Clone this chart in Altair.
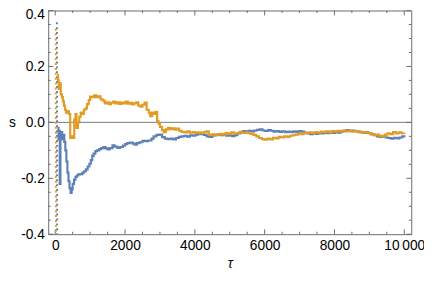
import altair as alt
import pandas as pd

# ---- data ----
orange_x = [60, 80, 100, 130, 160, 190, 220, 250, 280, 310, 350, 390, 430, 470, 520, 545, 580, 610, 650, 690,
            730, 780, 820, 870, 910, 960, 1000, 1060, 1120, 1180, 1240, 1300, 1360, 1420, 1480, 1540, 1600, 1660,
            1720, 1780, 1840, 1900, 1960, 2020, 2080, 2140, 2200, 2260, 2320, 2380, 2440, 2500, 2560, 2620, 2680,
            2720, 2780, 2840, 2880, 2920, 2960, 3000, 3060, 3110, 3170, 3230, 3290, 3350, 3420, 3480, 3550, 3620,
            3700, 3780, 3860, 3940, 4020, 4100, 4180, 4260, 4330, 4400, 4480, 4560, 4640, 4720, 4800, 4880, 4960,
            5040, 5120, 5200, 5280, 5360, 5440, 5520, 5600, 5680, 5760, 5840, 5920, 6000, 6080, 6160, 6240, 6320,
            6400, 6480, 6560, 6640, 6720, 6800, 6880, 6960, 7040, 7120, 7200, 7280, 7360, 7440, 7520, 7600, 7680,
            7760, 7840, 7920, 8000, 8080, 8160, 8240, 8320, 8400, 8480, 8560, 8640, 8720, 8800, 8880, 8960, 9040,
            9120, 9200, 9280, 9360, 9440, 9520, 9600, 9680, 9760, 9840, 9920, 10000]
orange_y = [0.17, 0.15, 0.12, 0.14, 0.10, 0.09, 0.075, 0.06, 0.045, 0.035, 0.04, 0.03, -0.056, -0.05, -0.056,
            0.01, 0.03, -0.02, 0.0, 0.02, 0.035, 0.03, 0.045, 0.05, 0.065, 0.08, 0.092, 0.09, 0.097, 0.09, 0.093,
            0.082, 0.078, 0.068, 0.072, 0.065, 0.07, 0.074, 0.068, 0.072, 0.066, 0.071, 0.068, 0.074, 0.067, 0.07,
            0.064, 0.068, 0.072, 0.06, 0.056, 0.063, 0.071, 0.045, 0.035, 0.022, 0.035, 0.03, 0.038, 0.005, -0.005,
            -0.016, -0.028, -0.035, -0.025, -0.02, -0.024, -0.021, -0.026, -0.022, -0.03, -0.034, -0.036, -0.032,
            -0.037, -0.035, -0.038, -0.036, -0.039, -0.035, -0.032, -0.045, -0.043, -0.047, -0.044, -0.041, -0.044,
            -0.038, -0.041, -0.036, -0.04, -0.038, -0.035, -0.038, -0.036, -0.039, -0.041, -0.045, -0.05, -0.056,
            -0.06, -0.062, -0.058, -0.061, -0.055, -0.057, -0.052, -0.054, -0.05, -0.052, -0.048, -0.046, -0.044,
            -0.04, -0.042, -0.037, -0.039, -0.036, -0.038, -0.035, -0.037, -0.033, -0.035, -0.032, -0.035, -0.031,
            -0.033, -0.03, -0.032, -0.029, -0.032, -0.03, -0.033, -0.031, -0.035, -0.034, -0.037, -0.035, -0.038,
            -0.043, -0.046, -0.044, -0.048, -0.05, -0.044, -0.039, -0.042, -0.035, -0.04, -0.036, -0.039, -0.037]

blue_x = [65, 95, 115, 130, 150, 175, 200, 230, 260, 290, 320, 350, 380, 410, 440, 470, 500, 540, 580, 620, 660,
          720, 780, 830, 880, 930, 980, 1020, 1060, 1100, 1150, 1200, 1260, 1320, 1380, 1440, 1500, 1560, 1640,
          1700, 1780, 1860, 1940, 2000, 2060, 2140, 2220, 2280, 2340, 2420, 2500, 2580, 2660, 2760, 2820, 2900,
          2980, 3060, 3140, 3220, 3300, 3380, 3460, 3540, 3620, 3700, 3780, 3860, 3940, 4020, 4100, 4180, 4260,
          4340, 4420, 4500, 4580, 4660, 4740, 4820, 4900, 4980, 5060, 5140, 5220, 5300, 5380, 5460, 5540, 5620,
          5700, 5780, 5860, 5940, 6020, 6100, 6180, 6260, 6340, 6420, 6500, 6580, 6660, 6740, 6820, 6900, 6980,
          7060, 7140, 7220, 7300, 7380, 7460, 7540, 7620, 7700, 7780, 7860, 7940, 8020, 8100, 8180, 8260, 8340,
          8420, 8500, 8580, 8660, 8740, 8820, 8900, 8980, 9060, 9140, 9220, 9300, 9380, 9460, 9540, 9620, 9700,
          9780, 9860, 9940, 10000]
blue_y = [-0.02, -0.06, -0.03, -0.22, -0.04, -0.035, -0.06, -0.045, -0.07, -0.1, -0.14, -0.18, -0.21, -0.235,
          -0.252, -0.24, -0.22, -0.205, -0.195, -0.19, -0.186, -0.185, -0.18, -0.175, -0.168, -0.158, -0.148,
          -0.135, -0.12, -0.112, -0.103, -0.1, -0.096, -0.092, -0.088, -0.093, -0.097, -0.092, -0.082, -0.087,
          -0.091, -0.088, -0.083, -0.078, -0.074, -0.072, -0.076, -0.08, -0.074, -0.071, -0.066, -0.067, -0.065,
          -0.058, -0.05, -0.045, -0.044, -0.053, -0.058, -0.06, -0.058, -0.061, -0.056, -0.052, -0.05, -0.048,
          -0.051, -0.046, -0.048, -0.044, -0.04, -0.042, -0.045, -0.05, -0.052, -0.047, -0.045, -0.043, -0.046,
          -0.044, -0.048, -0.046, -0.049, -0.046, -0.04, -0.034, -0.031, -0.033, -0.03, -0.032, -0.029, -0.027,
          -0.025, -0.029, -0.031, -0.028, -0.03, -0.033, -0.031, -0.034, -0.032, -0.035, -0.033, -0.035, -0.032,
          -0.034, -0.031, -0.033, -0.037, -0.04, -0.042, -0.039, -0.041, -0.038, -0.04, -0.037, -0.039, -0.036,
          -0.038, -0.035, -0.037, -0.033, -0.03, -0.028, -0.031, -0.029, -0.031, -0.033, -0.036, -0.038, -0.036,
          -0.039, -0.042, -0.046, -0.05, -0.052, -0.05, -0.054, -0.056, -0.058, -0.055, -0.057, -0.054, -0.05,
          -0.046]

# early, wildly fluctuating start (drawn dotted)
orange_early_x = [15, 22]
orange_early_y = [0.335, -0.45]
blue_early_x = [48, 56]
blue_early_y = [0.358, -0.45]

x_major = [0, 2000, 4000, 6000, 8000, 10000]
x_minor = [500, 1000, 1500, 2500, 3000, 3500, 4500, 5000, 5500, 6500, 7000, 7500, 8500, 9000, 9500]
y_major = [-0.4, -0.2, 0.0, 0.2, 0.4]
y_minor = [-0.35, -0.3, -0.25, -0.15, -0.1, -0.05, 0.05, 0.1, 0.15, 0.25, 0.3, 0.35]

BLUE = "#5e81b5"
ORANGE = "#e19c24"
FRAME = "#6b6b6b"
W, H = 370, 228

lines = pd.concat([
    pd.DataFrame({"x": blue_x, "y": blue_y, "s": "blue"}),
    pd.DataFrame({"x": orange_x, "y": orange_y, "s": "orange"}),
])
early = pd.concat([
    pd.DataFrame({"x": blue_early_x, "y": blue_early_y, "s": "blue"}),
    pd.DataFrame({"x": orange_early_x, "y": orange_early_y, "s": "orange"}),
])

xscale = alt.Scale(domain=[-200, 10200], nice=False, zero=False)
yscale = alt.Scale(domain=[-0.4, 0.4], nice=False, zero=False)
cscale = alt.Scale(domain=["blue", "orange"], range=[BLUE, ORANGE])

xaxis = alt.Axis(values=x_major, labelExpr="datum.value == 10000 ? '10\u2009000' : format(datum.value, 'd')",
                 title="τ", titleFontStyle="italic", titleFontSize=14, titleFontWeight="normal",
                 titleX=W / 2, titleY=30, titleAlign="center", titleBaseline="middle",
                 labelPadding=5, labelFlush=False)
yaxis = alt.Axis(values=y_major,
                 labelExpr="datum.value < 0 ? '-' + format(-datum.value, '.1f') : format(datum.value, '.1f')",
                 labelOffset={"condition": {"test": "datum.value > 0.39", "value": 4}, "value": 0},
                 title="s", titleAngle=0, titleFontSize=14, titleFontWeight="normal",
                 titleX=-37, titleY=H / 2, titleAlign="center", titleBaseline="middle",
                 labelPadding=4)

X = lambda f: alt.X(f, scale=xscale, axis=xaxis)
Y = lambda f: alt.Y(f, scale=yscale, axis=yaxis)

zero = alt.Chart(pd.DataFrame({"z": [0.0]})).mark_rule(color="#777777", strokeWidth=1).encode(
    y=Y("z:Q"))

early_layer = alt.Chart(early).mark_line(strokeWidth=2, strokeDash=[2, 3], clip=True).encode(
    x=X("x:Q"),
    y=Y("y:Q"),
    color=alt.Color("s:N", scale=cscale, legend=None),
    order="x:Q",
)

main = alt.Chart(lines).mark_line(strokeWidth=2.2, interpolate="step-after", clip=True).encode(
    x=X("x:Q"),
    y=Y("y:Q"),
    color=alt.Color("s:N", scale=cscale, legend=None),
    order="x:Q",
)


def xticks(vals, length):
    d = pd.DataFrame({"t": vals})
    base = alt.Chart(d).mark_rule(color=FRAME, strokeWidth=1)
    bottom = base.encode(x=X("t:Q"), y=alt.value(H), y2=alt.value(H - length))
    top = base.encode(x=X("t:Q"), y=alt.value(0), y2=alt.value(length))
    return [bottom, top]


def yticks(vals, length):
    d = pd.DataFrame({"t": vals})
    base = alt.Chart(d).mark_rule(color=FRAME, strokeWidth=1)
    left = base.encode(y=Y("t:Q"), x=alt.value(0), x2=alt.value(length))
    right = base.encode(y=Y("t:Q"), x=alt.value(W), x2=alt.value(W - length))
    return [left, right]


tick_layers = xticks(x_major, 5) + xticks(x_minor, 2.5) + yticks(y_major, 5) + yticks(y_minor, 2.5)
chart = alt.layer(zero, *tick_layers, early_layer, main).properties(
    width=W, height=H,
    padding={"left": 41, "top": 0, "right": 13, "bottom": 38},
    autosize="none",
).configure_view(stroke=FRAME, strokeWidth=1).configure_axis(
    labelFont="Liberation Sans", labelFontSize=14, labelColor="#000000",
    titleFont="Liberation Sans", titleColor="#000000",
    domain=False, ticks=False, tickSize=0, grid=False,
)

chart.save("out.html", embed_options={"renderer": "svg", "actions": False})
